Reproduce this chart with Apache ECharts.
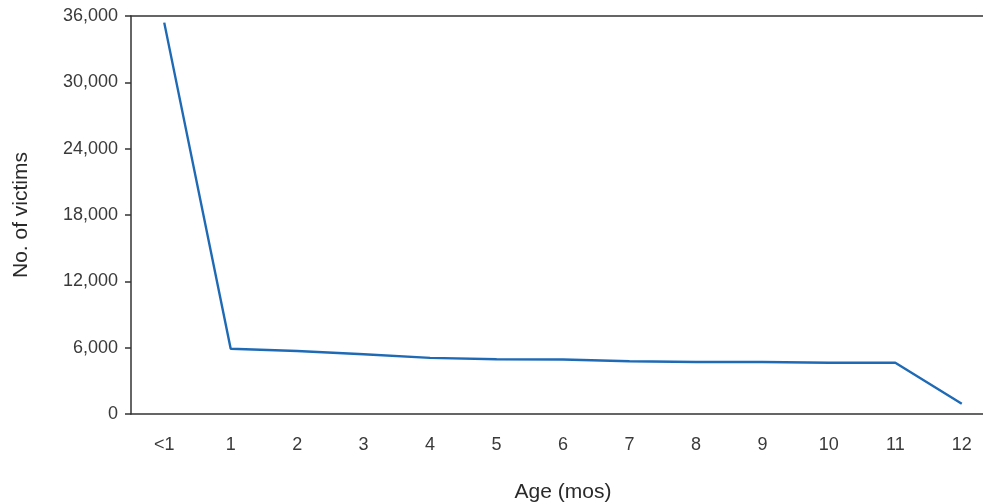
<!DOCTYPE html>
<html><head><meta charset="utf-8">
<script src="https://cdn.jsdelivr.net/npm/echarts@6/dist/echarts.min.js"></script>
<style>html,body{margin:0;padding:0;background:#fff}#c{width:983px;height:504px}</style>
</head><body><div id="c"></div>
<script>
const categories = ['<1','1','2','3','4','5','6','7','8','9','10','11','12'];
const victims = [35400, 5900, 5700, 5400, 5080, 4950, 4930, 4770, 4700, 4700, 4640, 4640, 930];
const yTicks = {min: 0, max: 36000, interval: 6000};

const chart = echarts.init(document.getElementById('c'));
const FONT = 'Liberation Sans, Arial, sans-serif';
const axisFont = {color: '#3a3a3a', fontSize: 18, fontFamily: FONT};
chart.setOption({
  animation: false,
  grid: {left: 131, top: 16, width: 864, height: 398, containLabel: false, outerBoundsMode: 'none'},
  xAxis: [{
    type: 'category', data: categories, boundaryGap: true,
    name: 'Age (mos)', nameLocation: 'middle', nameGap: 68,
    nameTextStyle: {color: '#2a2a2a', fontSize: 21, fontFamily: FONT},
    axisLine: {lineStyle: {color: '#333', width: 1.5}},
    axisTick: {alignWithLabel: true, length: 5, lineStyle: {color: '#333', width: 1.5}},
    axisLabel: Object.assign({margin: 22}, axisFont),
    splitLine: {show: false}
  }, {
    type: 'category', data: categories, position: 'top', boundaryGap: true,
    axisLine: {lineStyle: {color: '#333', width: 1.5}},
    axisTick: {show: false}, axisLabel: {show: false}, splitLine: {show: false}
  }],
  yAxis: {
    type: 'value', min: yTicks.min, max: yTicks.max, interval: yTicks.interval,
    name: 'No. of victims', nameLocation: 'middle', nameGap: 99, nameRotate: 90,
    nameTextStyle: {color: '#2a2a2a', fontSize: 21, fontFamily: FONT},
    axisLine: {show: true, lineStyle: {color: '#333', width: 1.5}},
    axisTick: {show: true, length: 6, lineStyle: {color: '#333', width: 1.5}},
    axisLabel: Object.assign({margin: 13, formatter: v => v.toLocaleString('en-US')}, axisFont),
    splitLine: {show: false}
  },
  series: [{
    type: 'line', data: victims, xAxisIndex: 0,
    symbol: 'none', lineStyle: {color: '#1f6ab5', width: 2.4}
  }]
});
</script></body></html>
